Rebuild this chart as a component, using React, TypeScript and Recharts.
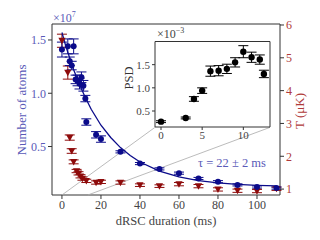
import React from "react";
import {
  ComposedChart,
  ScatterChart,
  Scatter,
  XAxis,
  YAxis,
  ErrorBar,
  ReferenceLine,
  ReferenceArea,
} from "recharts";

// atom number (x 1e7) vs dRSC duration (ms)
const atomT = [0, 3, 4, 5, 6, 7, 8, 9, 10, 11, 12, 12.5, 17.5, 20, 30, 40, 50, 60, 70, 80, 90, 100, 110];
const atomN = [1.41, 1.44, 1.3, 1.26, 1.44, 1.13, 1.12, 1.09, 1.15, 1.07, 0.95, 0.73, 0.61, 0.57, 0.45, 0.34, 0.29, 0.25, 0.2, 0.17, 0.14, 0.12, 0.11];
const atomErr = [0.07, 0.07, 0.04, 0.04, 0.07, 0.04, 0.05, 0.05, 0.05, 0.05, 0.03, 0.03, 0.03, 0.03, 0.01, 0.01, 0.01, 0.01, 0.01, 0.01, 0.01, 0.01, 0.01];

// temperature (uK)
const tempT = [0, 3, 4, 5, 6, 7.5, 8.5, 9.5, 10.5, 12.5, 17.5, 20, 30, 40, 50, 60, 70, 80, 90, 100, 110];
const tempK = [5.52, 4.55, 2.57, 2.16, 1.83, 1.55, 1.48, 1.39, 1.32, 1.25, 1.2, 1.22, 1.2, 1.12, 1.09, 1.15, 1.09, 0.99, 0.95, 0.94, 1.01];
const tempErr = [0.2, 0.2, 0.08, 0.07, 0.06, 0.05, 0.05, 0.05, 0.05, 0.05, 0.05, 0.05, 0.05, 0.04, 0.04, 0.05, 0.05, 0.05, 0.05, 0.05, 0.05];

// exponential fit
const fitT = [0, 2, 4, 6, 8, 10, 12, 15, 20, 25, 30, 35, 40, 50, 60, 70, 80, 90, 100, 110];
const fitN = [1.57, 1.44, 1.33, 1.22, 1.13, 1.04, 0.96, 0.85, 0.7, 0.585, 0.49, 0.416, 0.355, 0.269, 0.215, 0.18, 0.158, 0.144, 0.135, 0.13];

// inset: phase space density (x 1e-3)
const psdT = [0, 3, 4, 5, 6, 7, 8, 9, 10, 11, 12, 12.5];
const psdV = [0.27, 0.35, 0.76, 0.94, 1.36, 1.37, 1.41, 1.55, 1.78, 1.66, 1.61, 1.3];
const psdErr = [0.02, 0.02, 0.05, 0.06, 0.11, 0.11, 0.1, 0.1, 0.13, 0.11, 0.1, 0.08];

const xTicks = [0, 20, 40, 60, 80, 100];
const leftTicks = [0.5, 1.0, 1.5];
const rightTicks = [1, 2, 3, 4, 5, 6];
const insetXTicks = [0, 5, 10];
const insetYTicks = [0.5, 1.0, 1.5];

const atoms = atomT.map((x, i) => ({ x, y: atomN[i], e: atomErr[i] }));
const temps = tempT.map((x, i) => ({ x, y: tempK[i], e: tempErr[i] }));
const fit = fitT.map((x, i) => ({ x, y: fitN[i] }));
const psd = psdT.map((x, i) => ({ x, y: psdV[i], e: psdErr[i] }));

const FONT = "'Liberation Serif', 'DejaVu Serif', serif";
const BLUE = "#0b0b8a";
const RED = "#8e0b0b";
const BLUE_TXT = "#5a5ab8";
const RED_TXT = "#b03a3a";
const GREY_TXT = "#444";
const FRAME = "#333";

const X_DOM: [number, number] = [-5.1, 111.8];
const L_DOM: [number, number] = [0.045, 1.65];

const Dot = (color: string, r: number) => (p: any) =>
  <circle cx={p.cx} cy={p.cy} r={r} fill={color} />;

const DownTri = (p: any) => {
  const s = 3.6;
  return (
    <polygon
      points={`${p.cx - s},${p.cy - s * 0.8} ${p.cx + s},${p.cy - s * 0.8} ${p.cx},${p.cy + s}`}
      fill={RED}
    />
  );
};

const tick = (fill: string, size = 12) => ({ fontSize: size, fill, fontFamily: FONT });

function Inset() {
  return (
    <ScatterChart width={175} height={115} margin={{ top: 11.5, right: 5, bottom: 0, left: 0 }}>
      <XAxis
        type="number"
        dataKey="x"
        domain={[-0.73, 13.24]}
        ticks={insetXTicks}
        allowDataOverflow
        height={18}
        tickSize={3}
        tickMargin={1}
        axisLine={false}
        tickLine={{ stroke: FRAME }}
        tick={tick(GREY_TXT, 11)}
      />
      <YAxis
        type="number"
        dataKey="y"
        domain={[0.155, 2.0]}
        ticks={insetYTicks}
        allowDataOverflow
        width={55}
        tickSize={3}
        tickMargin={2}
        axisLine={false}
        tickLine={{ stroke: FRAME }}
        tick={tick(GREY_TXT, 11)}
        tickFormatter={(v: number) => v.toFixed(1)}
      />
      <ReferenceArea x1={-0.73} x2={13.24} y1={0.155} y2={2.0} fill="#fff" fillOpacity={1} stroke={FRAME} strokeWidth={1} />
      <Scatter data={psd} shape={Dot("#000", 3.2)} isAnimationActive={false}>
        <ErrorBar dataKey="e" direction="y" width={5} stroke="#000" strokeWidth={1} />
      </Scatter>
    </ScatterChart>
  );
}

export default function App() {
  return (
    <div style={{ position: "absolute", left: 0, top: 0, width: 320, height: 240, background: "#fff" }}>
      <ComposedChart width={320} height={240} margin={{ top: 24, right: 0, bottom: 0, left: 0 }}>
        <XAxis
          type="number"
          dataKey="x"
          domain={X_DOM}
          ticks={xTicks}
          allowDataOverflow
          height={45}
          tickSize={4}
          tickMargin={1}
          axisLine={false}
          tickLine={{ stroke: FRAME }}
          tick={tick(GREY_TXT)}
        />
        <YAxis
          yAxisId="left"
          type="number"
          dataKey="y"
          domain={L_DOM}
          ticks={leftTicks}
          allowDataOverflow
          width={52}
          tickSize={4}
          tickMargin={2}
          axisLine={false}
          tickLine={{ stroke: FRAME }}
          tick={tick(BLUE_TXT)}
          tickFormatter={(v: number) => v.toFixed(1)}
        />
        <YAxis
          yAxisId="right"
          orientation="right"
          type="number"
          dataKey="y"
          domain={[0.82, 6.03]}
          ticks={rightTicks}
          allowDataOverflow
          width={40}
          tickSize={4}
          tickMargin={2}
          axisLine={false}
          tickLine={{ stroke: FRAME }}
          tick={tick(RED_TXT)}
        />
        <ReferenceArea yAxisId="left" x1={X_DOM[0]} x2={X_DOM[1]} y1={L_DOM[0]} y2={L_DOM[1]} fill="none" stroke={FRAME} strokeWidth={1} />
        <ReferenceLine yAxisId="left" segment={[{ x: 0, y: 0.045 }, { x: 47.7, y: 0.68 }]} stroke="#aaa" strokeWidth={0.8} />
        <ReferenceLine yAxisId="left" segment={[{ x: 13.3, y: 0.045 }, { x: 106.7, y: 0.68 }]} stroke="#aaa" strokeWidth={0.8} />
        <Scatter
          yAxisId="left"
          data={fit}
          line={{ stroke: BLUE, strokeWidth: 1.3 }}
          lineType="joint"
          shape={() => <g />}
          isAnimationActive={false}
        />
        <Scatter yAxisId="right" data={temps} shape={DownTri} isAnimationActive={false}>
          <ErrorBar dataKey="e" direction="y" width={5} stroke={RED} strokeWidth={1} />
        </Scatter>
        <Scatter yAxisId="left" data={atoms} shape={Dot(BLUE, 3)} isAnimationActive={false}>
          <ErrorBar dataKey="e" direction="y" width={5} stroke={BLUE} strokeWidth={1} />
        </Scatter>
      </ComposedChart>

      <div style={{ position: "absolute", left: 100, top: 30 }}>
        <Inset />
      </div>

      <svg
        width={320}
        height={240}
        style={{ position: "absolute", left: 0, top: 0, pointerEvents: "none" }}
        fontFamily={FONT}
      >
        <text x={53} y={22} fill={BLUE_TXT} fontSize={12}>
          ×10<tspan dy={-5} fontSize={8}>7</tspan>
        </text>
        <text x={157} y={38} fill={GREY_TXT} fontSize={12}>
          ×10<tspan dy={-5} fontSize={8}>−3</tspan>
        </text>
        <text x={198} y={167} fill={BLUE_TXT} fontSize={12.5}>
          τ = 22 ± 2 ms
        </text>
        <text x={166} y={225} fill={GREY_TXT} fontSize={12.5} textAnchor="middle">
          dRSC duration (ms)
        </text>
        <text
          transform="translate(26,110) rotate(-90)"
          fill={BLUE_TXT}
          fontSize={13}
          textAnchor="middle"
        >
          Number of atoms
        </text>
        <text
          transform="translate(304,111) rotate(-90)"
          fill={RED_TXT}
          fontSize={13}
          textAnchor="middle"
        >
          T (μK)
        </text>
        <text
          transform="translate(133,78) rotate(-90)"
          fill={FRAME}
          fontSize={12.5}
          textAnchor="middle"
        >
          PSD
        </text>
      </svg>
    </div>
  );
}
